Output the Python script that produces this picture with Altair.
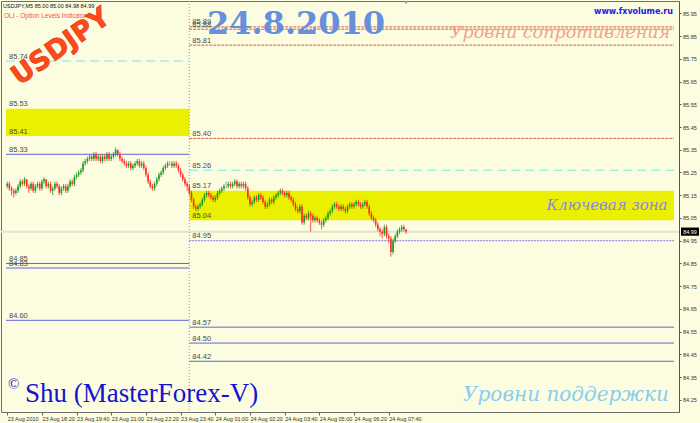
import json
import altair as alt
import pandas as pd

# ---- USDJPY M5 bars, 23 Aug 17:00 .. 24 Aug 08:20 ----
FIRST_OPEN = 85.19
CLOSE = [
    85.20, 85.18, 85.17, 85.16, 85.17, 85.19,
    85.21, 85.20, 85.22, 85.19, 85.18,
    85.20, 85.17, 85.19, 85.20, 85.18,
    85.21, 85.22, 85.19, 85.20, 85.17, 85.18,
    85.20, 85.19, 85.16, 85.18, 85.19, 85.17,
    85.19, 85.21, 85.20,
    85.23, 85.24, 85.25, 85.26,
    85.29, 85.30,
    85.31, 85.32, 85.31, 85.33, 85.31, 85.32, 85.30, 85.32, 85.31, 85.33, 85.31, 85.32,
    85.33, 85.35, 85.33, 85.31,
    85.30, 85.29, 85.28, 85.29, 85.27, 85.28,
    85.29, 85.30, 85.28, 85.29, 85.27,
    85.24, 85.21, 85.19, 85.18,
    85.20, 85.22, 85.24, 85.25, 85.27, 85.28,
    85.29, 85.29, 85.28, 85.29, 85.28,
    85.26, 85.24, 85.22, 85.20, 85.19,
    85.16, 85.13, 85.10, 85.09, 85.10,
    85.11, 85.13, 85.15, 85.16, 85.15,
    85.14, 85.13, 85.14,
    85.16, 85.17, 85.18, 85.19,
    85.19, 85.20, 85.19, 85.20, 85.21, 85.19, 85.20, 85.19, 85.20, 85.18,
    85.14, 85.11, 85.12,
    85.14, 85.13, 85.15, 85.14,
    85.12, 85.10, 85.11, 85.13, 85.12,
    85.14, 85.15, 85.16, 85.17,
    85.16, 85.15, 85.16, 85.14, 85.13,
    85.11, 85.09, 85.08, 85.10,
    85.03,
    85.06, 85.05, 85.07, 85.06,
    85.04, 85.05, 85.04, 85.03,
    85.02, 85.04, 85.05,
    85.07, 85.08, 85.10, 85.11, 85.10,
    85.09, 85.10, 85.09, 85.08,
    85.10, 85.11, 85.10, 85.11, 85.12, 85.11, 85.10,
    85.11, 85.12, 85.10,
    85.07, 85.05, 85.04,
    85.02, 85.00, 84.99,
    84.98, 85.01, 84.97, 84.96,
    84.90,
    84.95,
    84.97, 84.99, 85.00,
    85.01, 85.00, 84.99,
]
HIGH = [
    85.21, 85.21, 85.19, 85.18, 85.18, 85.20,
    85.22, 85.22, 85.23, 85.22, 85.20,
    85.21, 85.21, 85.20, 85.21, 85.21,
    85.22, 85.23, 85.22, 85.21, 85.21, 85.19,
    85.21, 85.21, 85.20, 85.19, 85.20, 85.20,
    85.20, 85.22, 85.22,
    85.24, 85.25, 85.26, 85.27,
    85.30, 85.31,
    85.32, 85.33, 85.33, 85.34, 85.34, 85.33, 85.33, 85.33, 85.33, 85.34, 85.34, 85.33,
    85.34, 85.36, 85.35, 85.34,
    85.32, 85.31, 85.30, 85.30, 85.30, 85.29,
    85.30, 85.31, 85.31, 85.30, 85.30,
    85.28, 85.25, 85.22, 85.20,
    85.21, 85.23, 85.25, 85.26, 85.28, 85.29,
    85.30, 85.30, 85.30, 85.30, 85.30,
    85.29, 85.27, 85.25, 85.23, 85.21,
    85.20, 85.17, 85.14, 85.11, 85.11,
    85.12, 85.14, 85.16, 85.17, 85.17,
    85.16, 85.15, 85.15,
    85.17, 85.18, 85.19, 85.20,
    85.21, 85.21, 85.21, 85.21, 85.22, 85.22, 85.21, 85.21, 85.21, 85.21,
    85.19, 85.15, 85.13,
    85.15, 85.15, 85.16, 85.16,
    85.15, 85.13, 85.12, 85.14, 85.14,
    85.15, 85.16, 85.17, 85.18,
    85.18, 85.17, 85.17, 85.17, 85.15,
    85.14, 85.12, 85.10, 85.11,
    85.11,
    85.07, 85.07, 85.08, 85.08,
    85.07, 85.06, 85.06, 85.05,
    85.04, 85.05, 85.06,
    85.08, 85.09, 85.11, 85.12, 85.12,
    85.11, 85.11, 85.11, 85.10,
    85.11, 85.12, 85.12, 85.12, 85.13, 85.13, 85.12,
    85.12, 85.13, 85.13,
    85.11, 85.08, 85.06,
    85.05, 85.03, 85.01,
    85.00, 85.02, 85.02, 84.98,
    84.97,
    84.96,
    84.98, 85.00, 85.01,
    85.02, 85.02, 85.00,
]
LOW = [
    85.18, 85.17, 85.15, 85.14, 85.15, 85.16,
    85.18, 85.19, 85.19, 85.18, 85.16,
    85.17, 85.16, 85.16, 85.18, 85.17,
    85.17, 85.20, 85.18, 85.18, 85.16, 85.15,
    85.17, 85.18, 85.15, 85.15, 85.17, 85.16,
    85.16, 85.18, 85.19,
    85.19, 85.22, 85.23, 85.24,
    85.25, 85.28,
    85.29, 85.30, 85.30, 85.30, 85.30, 85.30, 85.29, 85.29, 85.30, 85.30, 85.30, 85.30,
    85.31, 85.32, 85.32, 85.30,
    85.29, 85.28, 85.27, 85.27, 85.26, 85.26,
    85.27, 85.28, 85.27, 85.27, 85.26,
    85.23, 85.20, 85.18, 85.17,
    85.17, 85.19, 85.21, 85.23, 85.24, 85.26,
    85.27, 85.28, 85.27, 85.27, 85.27,
    85.25, 85.23, 85.21, 85.19, 85.17,
    85.15, 85.12, 85.09, 85.08, 85.08,
    85.09, 85.10, 85.12, 85.14, 85.14,
    85.13, 85.12, 85.12,
    85.13, 85.15, 85.16, 85.17,
    85.18, 85.18, 85.18, 85.18, 85.19, 85.18, 85.18, 85.18, 85.18, 85.17,
    85.13, 85.10, 85.10,
    85.11, 85.12, 85.12, 85.13,
    85.11, 85.09, 85.09, 85.10, 85.11,
    85.11, 85.13, 85.14, 85.15,
    85.15, 85.14, 85.14, 85.13, 85.12,
    85.10, 85.08, 85.07, 85.07,
    85.02,
    85.02, 85.04, 85.04, 84.99,
    85.03, 85.03, 85.03, 85.02,
    85.00, 85.01, 85.03,
    85.04, 85.06, 85.07, 85.09, 85.09,
    85.08, 85.08, 85.08, 85.07,
    85.07, 85.09, 85.09, 85.09, 85.10, 85.10, 85.09,
    85.09, 85.10, 85.09,
    85.06, 85.04, 85.03,
    85.01, 84.99, 84.97,
    84.96, 84.97, 84.96, 84.94,
    84.88,
    84.89,
    84.94, 84.96, 84.98,
    84.99, 84.99, 84.98,
]
assert len(CLOSE) == len(HIGH) == len(LOW) == 185

# time axis: one label every 16 bars (80 minutes)
TIME_TICK_STEP = 16
TIME_LABELS = [
    "23 Aug 2010", "23 Aug 18:20", "23 Aug 19:40", "23 Aug 21:00",
    "23 Aug 22:20", "23 Aug 23:40", "24 Aug 01:00", "24 Aug 02:20",
    "24 Aug 03:40", "24 Aug 05:00", "24 Aug 06:20", "24 Aug 07:40",
]
PRICE_TICKS = [85.95, 85.85, 85.75, 85.65, 85.55, 85.45, 85.35, 85.25, 85.15,
               85.05, 84.95, 84.85, 84.75, 84.65, 84.55, 84.45, 84.35, 84.25]

DAY_SPLIT = 84          # first bar of 24 Aug
LAST_PRICE = 84.99

# option levels: "prev" = 23 Aug set, "curr" = 24 Aug set
LEVEL_PRICE = [85.74, 85.33, 84.85, 84.83, 84.60,
               85.89, 85.88, 85.81, 85.40, 85.26, 84.95, 84.57, 84.50, 84.42]
LEVEL_SIDE = ["prev", "prev", "prev", "prev", "prev",
              "curr", "curr", "curr", "curr", "curr", "curr", "curr", "curr", "curr"]
LEVEL_KIND = ["cyan", "blue", "blue", "blue", "blue",
              "red", "red", "red", "red", "cyan", "bluedot", "blue", "blue", "blue"]

# key zones
ZONE_LOW = [85.41, 85.04]
ZONE_HIGH = [85.53, 85.17]
ZONE_SIDE = ["prev", "curr"]

# ---- scales / frame ----
X_MIN, X_MAX = -0.55, 307.6
Y_MIN, Y_MAX = 84.197, 86.004
SPAN = {"prev": (X_MIN, DAY_SPLIT), "curr": (DAY_SPLIT, X_MAX)}

opens = [FIRST_OPEN] + CLOSE[:-1]
candles = pd.DataFrame({
    "i": list(range(len(CLOSE))),
    "open": opens, "high": HIGH, "low": LOW, "close": CLOSE,
})
candles["dir"] = [
    "up" if c > o else ("down" if c < o else "flat")
    for o, c in zip(candles["open"], candles["close"])
]

levels = pd.DataFrame({"price": LEVEL_PRICE, "side": LEVEL_SIDE, "kind": LEVEL_KIND})
levels["x0"] = [SPAN[s][0] for s in levels["side"]]
levels["x1"] = [SPAN[s][1] for s in levels["side"]]

zones = pd.DataFrame({"lo": ZONE_LOW, "hi": ZONE_HIGH, "side": ZONE_SIDE})
zones["x0"] = [SPAN[s][0] for s in zones["side"]]
zones["x1"] = [SPAN[s][1] for s in zones["side"]]

label_rows = [(p, SPAN[s][0]) for p, s in zip(LEVEL_PRICE, LEVEL_SIDE)]
label_rows += [(p, SPAN[s][0]) for lo, hi, s in zip(ZONE_LOW, ZONE_HIGH, ZONE_SIDE) for p in (hi, lo)]
level_labels = pd.DataFrame({
    "price": [r[0] for r in label_rows],
    "x0": [r[1] for r in label_rows],
    "label": [f"{r[0]:.2f}" for r in label_rows],
})

xs = alt.Scale(domain=[X_MIN, X_MAX], nice=False, zero=False)
ys = alt.Scale(domain=[Y_MIN, Y_MAX], nice=False, zero=False)

x_axis = alt.Axis(
    orient="bottom", title=None, grid=False, domain=False,
    values=list(range(0, TIME_TICK_STEP * len(TIME_LABELS), TIME_TICK_STEP)),
    labelExpr=f"{json.dumps(TIME_LABELS)}[round(datum.value / {TIME_TICK_STEP})]",
    labelFont="Liberation Sans", labelFontSize=5.5, labelColor="#333333",
    labelAlign="left", labelPadding=1, labelOffset=0, labelOverlap=False,
    labelFlush=False, labelBound=False,
    tickSize=3, tickColor="#666666",
)
y_axis = alt.Axis(
    orient="right", title=None, grid=False,
    values=PRICE_TICKS, format=".2f",
    labelFont="Liberation Sans", labelFontSize=5.5, labelColor="#333333",
    labelPadding=1.5, labelOverlap=False, labelFlush=False,
    tickSize=2, tickColor="#555555", domainColor="#555555",
)


def X(field=None, **kw):
    return alt.X(field, scale=xs, axis=x_axis, **kw) if field else alt.X(scale=xs, axis=x_axis, **kw)


def Y(field=None, **kw):
    return alt.Y(field, scale=ys, axis=y_axis, **kw) if field else alt.Y(scale=ys, axis=y_axis, **kw)


zone_layer = alt.Chart(zones).mark_rect(color="#ebf000").encode(
    x=X("x0:Q"), x2="x1:Q", y=Y("lo:Q"), y2="hi:Q",
)

KIND_STYLE = {
    "red": dict(color="#e8583c", strokeDash=[3, 1]),
    "cyan": dict(color="#7fdfe8", strokeDash=[9, 5]),
    "blue": dict(color="#6464dc"),
    "bluedot": dict(color="#7474e4", strokeDash=[2, 1]),
}
level_layers = [
    alt.Chart(levels[levels["kind"] == k]).mark_rule(strokeWidth=1, **style).encode(
        x=X("x0:Q"), x2="x1:Q", y=Y("price:Q"),
    )
    for k, style in KIND_STYLE.items()
]

one = pd.DataFrame({"v": [0]})
last_line = alt.Chart(one).mark_rule(color="#e2e2d0", strokeWidth=2).encode(
    y=Y(datum=LAST_PRICE)
)
split_line = alt.Chart(one).mark_rule(color="#9a9a9a", strokeDash=[1, 2]).encode(
    x=X(datum=DAY_SPLIT)
)

dir_color = alt.Color("dir:N", legend=None, scale=alt.Scale(
    domain=["up", "down", "flat"], range=["#1f9a1f", "#ff2b2b", "#8c8c8c"]))
wicks = alt.Chart(candles).mark_rule(strokeWidth=0.8).encode(
    x=X("i:Q"), y=Y("low:Q"), y2="high:Q", color=dir_color,
)
bodies = alt.Chart(candles).mark_bar(width=1.6).encode(
    x=X("i:Q"), y=Y("open:Q"), y2="close:Q", color=dir_color,
)

label_layer = alt.Chart(level_labels).mark_text(
    align="left", baseline="alphabetic", dx=3, dy=-2.5,
    font="Liberation Sans", fontSize=7.5, color="#4a4a4a",
).encode(x=X("x0:Q"), y=Y("price:Q"), text="label:N")

price_box = alt.Chart(one).mark_rect(color="#000000").encode(
    x=alt.value(680), x2=alt.value(698),
    y=Y(datum=LAST_PRICE + 0.018),
    y2=alt.Y2(datum=LAST_PRICE - 0.018),
)
price_text = alt.Chart(pd.DataFrame({"t": [f"{LAST_PRICE:.2f}"]})).mark_text(
    color="#ffffff", font="Liberation Sans", fontSize=5.5, align="center", baseline="middle",
).encode(x=alt.value(689), y=Y(datum=LAST_PRICE), text="t:N")

shift_marker = alt.Chart(one).mark_point(
    shape="triangle-down", filled=True, size=14, color="#a8a8a8", opacity=1
).encode(x=X(datum=len(CLOSE) - 1), y=alt.value(2))


def note(text, x, y, **mark):
    return alt.Chart(pd.DataFrame({"t": [text]})).mark_text(**mark).encode(
        x=alt.value(x), y=alt.value(y), text="t:N"
    )


header = note(
    f"USDJPY,M5  {opens[-1]:.2f} {HIGH[-1]:.2f} {LOW[-1]:.2f} {CLOSE[-1]:.2f}",
    2, 5, align="left", baseline="middle", font="Liberation Sans", fontSize=5.5,
    color="#111111",
)
indicator = note(
    "OLI - Option Levels Indicator", 3, 15, align="left", baseline="middle",
    font="Liberation Sans", fontSize=6.5, color="#ff4a4a",
)
symbol = note(
    "USDJPY", 60, 46, align="center", baseline="middle", angle=325,
    font="DejaVu Sans", fontSize=27, fontWeight="bold", color="#ff4a1a",
    stroke="#e03010", strokeWidth=0.6,
)
date = note(
    "24.8.2010", 295, 23, align="center", baseline="middle",
    font="DejaVu Serif", fontSize=32, fontWeight="bold", color="#6690dd",
)
site = note(
    "www.fxvolume.ru", 672, 11, align="right", baseline="middle",
    font="DejaVu Sans", fontSize=8, fontWeight="bold", color="#1a20e8",
)
resist = note(
    "Уровни сопротивления", 559, 32, align="center", baseline="middle",
    font="DejaVu Serif", fontStyle="italic", fontSize=17.5, color="#f5a088",
)
key_zone = note(
    "Ключевая зона", 606, 204, align="center", baseline="middle",
    font="DejaVu Serif", fontStyle="italic", fontSize=15, color="#8a84e8",
)
support = note(
    "Уровни поддержки", 565, 394, align="center", baseline="middle",
    font="DejaVu Serif", fontStyle="italic", fontSize=20, color="#88ccf0",
)
copy_sign = note(
    "©", 7, 383, align="left", baseline="middle",
    font="Liberation Serif", fontSize=15, color="#1414d0",
)
author = note(
    "Shu (MasterForex-V)", 24, 401, align="left", baseline="alphabetic",
    font="Liberation Serif", fontSize=27, color="#1414d0",
)

chart = alt.layer(
    zone_layer, *level_layers, last_line, split_line, wicks, bodies,
    label_layer, price_box, price_text, shift_marker,
    header, indicator, symbol, date, site, resist, key_zone, support,
    copy_sign, author,
).properties(
    width=678, height=411,
    padding={"left": 1, "top": 1, "right": 21, "bottom": 11},
    autosize=alt.AutoSizeParams(type="none"),
    background="#fcfde0",
).configure_view(stroke="#707070", strokeWidth=1)

chart.save("out.html", embed_options={"renderer": "svg", "actions": False})
